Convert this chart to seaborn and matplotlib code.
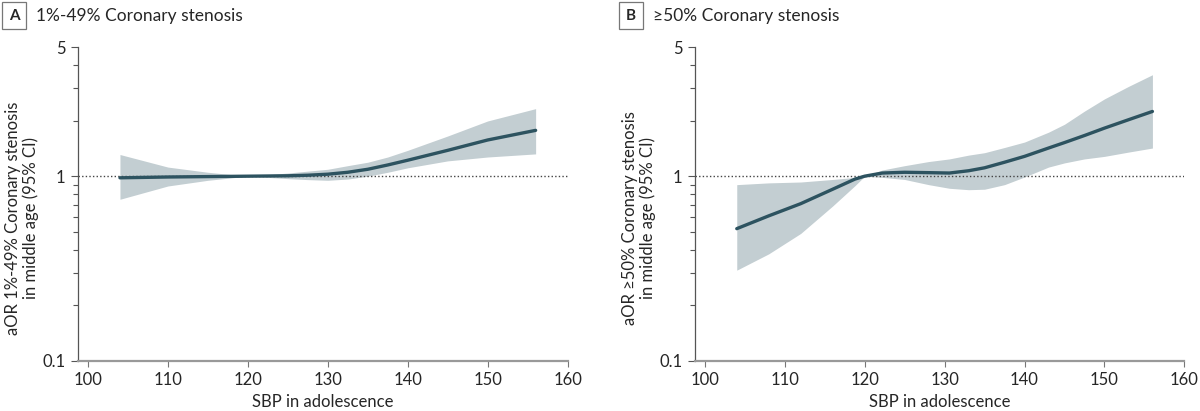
import matplotlib
matplotlib.use("Agg")
import matplotlib.pyplot as plt
import matplotlib.ticker as mticker
import pandas as pd
import seaborn as sea

sea.set_style("ticks")
plt.rcParams['font.family'] = ['Lato', 'DejaVu Sans']

# panel A: 1%-49% stenosis
sbp_a = [104, 110, 115, 120, 125, 127.5, 130, 132.5, 135, 137.5, 140, 145, 150, 156]
aor_a = [0.98, 0.99, 0.995, 1.0, 1.005, 1.012, 1.025, 1.05, 1.09, 1.15, 1.22, 1.38, 1.57, 1.77]
hi_a = [1.31, 1.12, 1.05, 1.0, 1.04, 1.065, 1.09, 1.14, 1.19, 1.27, 1.38, 1.65, 1.99, 2.32]
lo_a = [0.75, 0.885, 0.95, 1.0, 0.97, 0.958, 0.95, 0.965, 1.0, 1.05, 1.11, 1.21, 1.27, 1.32]

# panel B: >=50% stenosis
sbp_b = [104, 108, 112, 116, 118.8, 120, 122.2, 125, 128, 130.6, 133, 135, 137.5, 140, 143, 145, 147.5, 150, 153, 156]
aor_b = [0.52, 0.61, 0.71, 0.85, 0.965, 1.0, 1.04, 1.05, 1.045, 1.04, 1.07, 1.11, 1.19, 1.28, 1.42, 1.52, 1.66, 1.82, 2.02, 2.24]
hi_b = [0.90, 0.92, 0.93, 0.96, 0.985, 1.0, 1.08, 1.14, 1.2, 1.24, 1.30, 1.34, 1.43, 1.53, 1.73, 1.91, 2.25, 2.62, 3.06, 3.54]
lo_b = [0.31, 0.38, 0.49, 0.69, 0.89, 1.0, 0.985, 0.96, 0.9, 0.86, 0.845, 0.85, 0.9, 0.99, 1.12, 1.18, 1.24, 1.28, 1.35, 1.42]

x_ticks = [100, 110, 120, 130, 140, 150, 160]
y_major = [0.1, 1, 5]
y_minor = [0.2, 0.3, 0.4, 0.5, 0.6, 0.7, 0.8, 0.9, 2, 3, 4]

panels = [
    ("A", "1%-49% Coronary stenosis", "aOR 1%-49% Coronary stenosis\nin middle age (95% CI)", sbp_a, aor_a, lo_a, hi_a),
    ("B", "≥50% Coronary stenosis", "aOR ≥50% Coronary stenosis\nin middle age (95% CI)", sbp_b, aor_b, lo_b, hi_b),
]

line_col = "#2d5360"
band_col = "#c3ced2"

fig = plt.figure(figsize=(12, 4.11), dpi=100)
lefts = [0.065, 0.579]
for (tag, title, ylab, xs, ys, lo, hi), left in zip(panels, lefts):
    ax = fig.add_axes([left, 0.1217, 0.408, 0.7639])
    df = pd.DataFrame({"sbp": xs, "aor": ys, "lo": lo, "hi": hi})
    ax.fill_between(df["sbp"], df["lo"], df["hi"], color=band_col, lw=0, zorder=1)
    ax.axhline(1, color="#444444", lw=1, ls=(0, (1, 1.6)), zorder=2)
    sea.lineplot(data=df, x="sbp", y="aor", ax=ax, color=line_col, lw=2.4, zorder=3)
    ax.set_yscale("log")
    ax.set_xlim(98.75, 160)
    ax.set_ylim(0.1, 5)
    ax.set_xticks(x_ticks)
    ax.yaxis.set_major_locator(mticker.FixedLocator(y_major))
    ax.yaxis.set_minor_locator(mticker.FixedLocator(y_minor))
    ax.yaxis.set_major_formatter(mticker.FixedFormatter(["0.1", "1", "5"]))
    ax.yaxis.set_minor_formatter(mticker.NullFormatter())
    for s in ["top", "right"]:
        ax.spines[s].set_visible(False)
    ax.spines["left"].set_color("#555555")
    ax.spines["left"].set_linewidth(0.9)
    ax.spines["bottom"].set_color("#999999")
    ax.spines["bottom"].set_linewidth(1.6)
    ax.tick_params(axis="y", which="major", length=5, width=0.8, color="#555555", labelsize=12, pad=4)
    ax.tick_params(axis="y", which="minor", length=3.5, width=0.8, color="#555555")
    ax.tick_params(axis="x", length=4, width=0.8, color="#777777", labelsize=12, pad=4)
    ax.set_xlabel("SBP in adolescence", fontsize=12, labelpad=4)
    ax.set_ylabel(ylab, fontsize=12, linespacing=1.1)
    ax.yaxis.set_label_coords(-0.08, 0.455)
    x0 = left * 1200
    fig.text((x0 - 64) / 1200, 0.962, tag, fontsize=11, fontweight="bold", va="center", ha="center",
             bbox=dict(boxstyle="square,pad=0.45", fc="white", ec="#777777", lw=0.9))
    fig.text((x0 - 42) / 1200, 0.962, title, fontsize=12.5, va="center", ha="left")

fig.savefig("out.png", dpi=100)
